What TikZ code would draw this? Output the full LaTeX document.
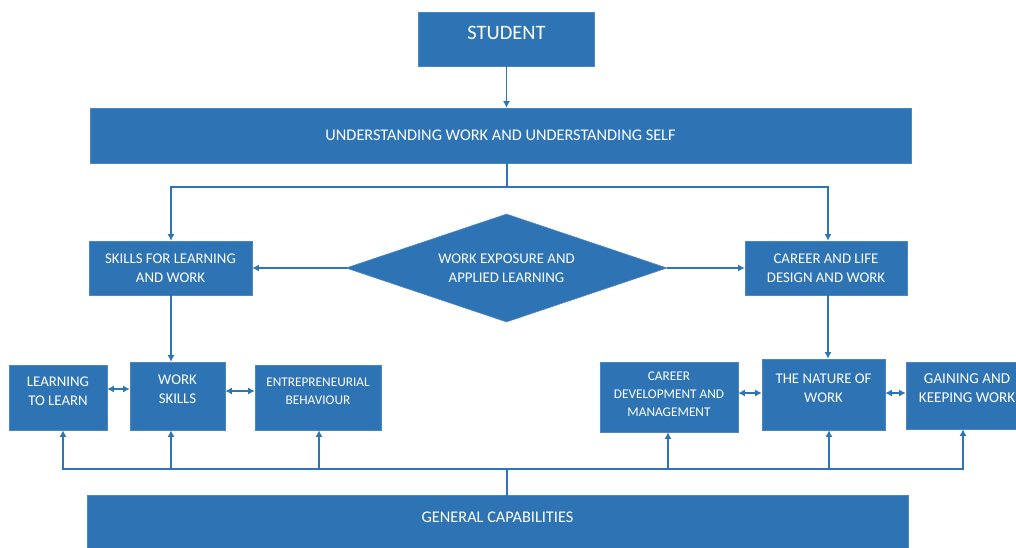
\documentclass[tikz,border=0pt]{standalone}
\usepackage{fontspec}
\setmainfont{Carlito}
\usetikzlibrary{shapes.geometric,arrows.meta}
\definecolor{boxblue}{HTML}{2E74B5}
\definecolor{lineblue}{HTML}{2E75B6}
\definecolor{edgeblue}{HTML}{4A87C6}
\tikzset{
  box/.style={rectangle, fill=boxblue, draw=edgeblue, line width=0.6pt, text=white, align=center, inner sep=0pt},
  fmid/.style={font=\fontsize{14.8}{19}\selectfont},
  fsmall/.style={font=\fontsize{13.3}{18}\selectfont},
  fbig/.style={font=\fontsize{16.3}{19}\selectfont},
  lbl/.style={text=white, align=center, inner sep=0pt, fmid},
  conn/.style={draw=lineblue, line width=1.6pt, line cap=rect},
  arr/.style={conn, -{Latex[length=6.5pt,width=7pt]}},
  darr/.style={conn, {Latex[length=6.5pt,width=7pt]}-{Latex[length=6.5pt,width=7pt]}},
}
\begin{document}
\begin{tikzpicture}[x=1pt,y=-1pt]
\clip (0,0) rectangle (1016,547);
\fill[white] (0,0) rectangle (1016,547);

% nodes
\node[box, minimum width=176, minimum height=54,
  label={[lbl,font=\fontsize{20.5}{24}\selectfont,yshift=6]center:STUDENT}] (student) at (506.5,39) {};
\node[box, fbig, minimum width=821, minimum height=55] (banner) at (500.5,135.5)
  {UNDERSTANDING WORK AND UNDERSTANDING SELF};
\node[box, fmid, minimum width=163, minimum height=54] (skills) at (170.5,268)
  {SKILLS FOR LEARNING\\AND WORK};
\node[box, fmid, minimum width=162, minimum height=54] (career) at (826,268)
  {CAREER AND LIFE\\DESIGN AND WORK};
\node[diamond, aspect=2.97, fill=boxblue, draw=edgeblue, line width=0.6pt, text=white,
  align=center, inner sep=0pt, minimum width=321, minimum height=108, fmid] (dia) at (506.5,268)
  {WORK EXPOSURE AND\\APPLIED LEARNING};

\node[box, minimum width=98, minimum height=65,
  label={[lbl,yshift=6]center:LEARNING\\TO LEARN}] (ltl) at (58,397.5) {};
\node[box, minimum width=95, minimum height=68,
  label={[lbl,yshift=6.5]center:WORK\\SKILLS}] (ws) at (177.5,396) {};
\node[box, minimum width=126, minimum height=65,
  label={[lbl,fsmall,yshift=6.5]center:ENTREPRENEURIAL\\BEHAVIOUR}] (ent) at (318,397.5) {};
\node[box, minimum width=138, minimum height=70,
  label={[lbl,fsmall,yshift=2.3]center:CAREER\\DEVELOPMENT AND\\MANAGEMENT}] (cdm) at (669,397) {};
\node[box, minimum width=123, minimum height=71,
  label={[lbl,yshift=6]center:THE NATURE OF\\WORK}] (nat) at (823.5,394.5) {};
\node[box, minimum width=122, minimum height=67,
  label={[lbl,font=\fontsize{15.1}{19}\selectfont,yshift=7]center:GAINING AND\\KEEPING WORK}] (gkw) at (967,395.5) {};
\node[box, minimum width=821, minimum height=54,
  label={[lbl,fbig,yshift=5]center:GENERAL CAPABILITIES}] (gc) at (497.5,522) {};

% coordinates
\coordinate (split) at (507,187);
\coordinate (sL) at (171,187);
\coordinate (sR) at (828,187);
\coordinate (bm) at (507,469);
\coordinate (b1) at (63,469);
\coordinate (b2) at (171,469);
\coordinate (b3) at (319,469);
\coordinate (b4) at (668,469);
\coordinate (b5) at (829,469);
\coordinate (b6) at (963,469);

% connectors
\draw[arr] (student.south) -- (student.south |- banner.north);
\draw[conn] (banner.south -| split) -- (split);
\draw[conn] (sL) -- (sR);
\draw[arr] (sL) -- (sL |- skills.north);
\draw[arr] (sR) -- (sR |- career.north);
\draw[arr] (dia.west) -- (skills.east);
\draw[arr] (dia.east) -- (career.west);
\draw[arr] (skills.south -| sL) -- (sL |- ws.north);
\draw[arr] (career.south -| sR) -- (sR |- nat.north);

\draw[darr] ([yshift=8.5]ltl.east) -- ([yshift=8.5]ltl.east -| ws.west);
\draw[darr] ([yshift=5]ws.east) -- ([yshift=5]ws.east -| ent.west);
\draw[darr] ([yshift=4]cdm.east) -- ([yshift=4]cdm.east -| nat.west);
\draw[darr] ([yshift=1.5]nat.east) -- ([yshift=1.5]nat.east -| gkw.west);

\draw[conn] (b1) -- (b6);
\draw[conn] (gc.north -| bm) -- (bm);
\draw[arr] (b1) -- (b1 |- ltl.south);
\draw[arr] (b2) -- (b2 |- ws.south);
\draw[arr] (b3) -- (b3 |- ent.south);
\draw[arr] (b4) -- (b4 |- cdm.south);
\draw[arr] (b5) -- (b5 |- nat.south);
\draw[arr] (b6) -- (b6 |- gkw.south);
\end{tikzpicture}
\end{document}
